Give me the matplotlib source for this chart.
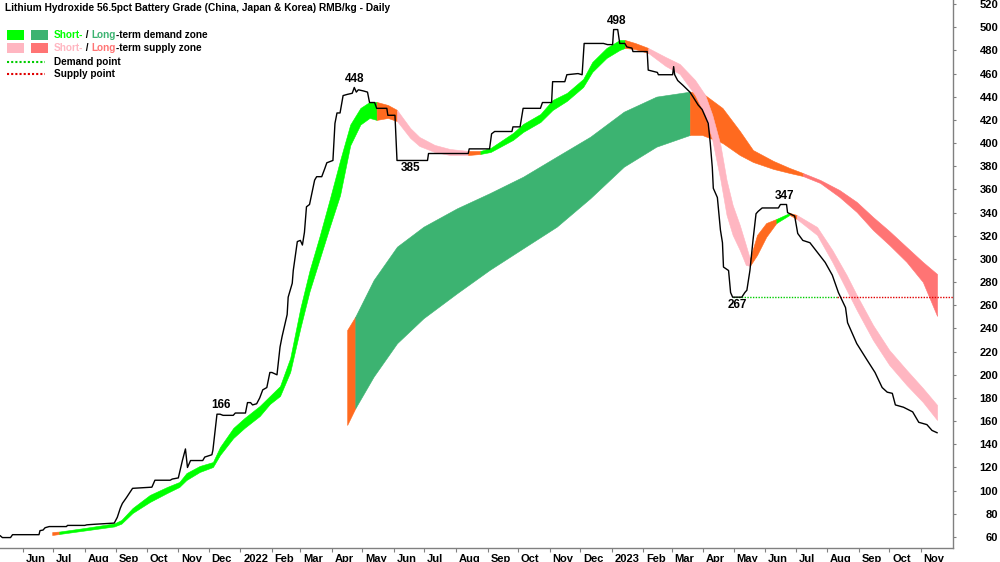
import matplotlib
matplotlib.use('Agg')
import matplotlib.pyplot as plt
import matplotlib.transforms as mtransforms
import numpy as np
import pandas as pd

plt.rcParams['font.family'] = ['Liberation Sans', 'DejaVu Sans']
plt.rcParams['font.weight'] = 'bold'
plt.rcParams['font.size'] = 8

# ---- price (RMB/kg) ----
price_dates = ['2021-05-10', '2021-05-12', '2021-05-20', '2021-05-22', '2021-06-17', '2021-06-18',
               '2021-06-21', '2021-06-23', '2021-06-27', '2021-07-14', '2021-07-15', '2021-08-01',
               '2021-08-03', '2021-08-11', '2021-08-30', '2021-09-02', '2021-09-05', '2021-09-07',
               '2021-09-11', '2021-09-17', '2021-10-06', '2021-10-09', '2021-10-24', '2021-10-26',
               '2021-11-01', '2021-11-05', '2021-11-08', '2021-11-10', '2021-11-13', '2021-11-25',
               '2021-11-27', '2021-12-04', '2021-12-05', '2021-12-09', '2021-12-12', '2021-12-15',
               '2021-12-25', '2021-12-27', '2022-01-06', '2022-01-08', '2022-01-11', '2022-01-13',
               '2022-01-17', '2022-01-20', '2022-01-23', '2022-01-27', '2022-01-30', '2022-02-01',
               '2022-02-06', '2022-02-09', '2022-02-11', '2022-02-16', '2022-02-17', '2022-02-21',
               '2022-02-22', '2022-02-26', '2022-03-01', '2022-03-03', '2022-03-05', '2022-03-07',
               '2022-03-10', '2022-03-15', '2022-03-17', '2022-03-22', '2022-03-25', '2022-03-27',
               '2022-04-02', '2022-04-04', '2022-04-06', '2022-04-09', '2022-04-12', '2022-04-16',
               '2022-04-21', '2022-04-23', '2022-04-25', '2022-04-27', '2022-05-02', '2022-05-06',
               '2022-05-08', '2022-05-13', '2022-05-15', '2022-05-25', '2022-05-26', '2022-06-02',
               '2022-06-04', '2022-07-04', '2022-07-05', '2022-08-13', '2022-08-14', '2022-09-03',
               '2022-09-05', '2022-09-08', '2022-09-25', '2022-09-26', '2022-10-03', '2022-10-06',
               '2022-10-23', '2022-10-25', '2022-11-03', '2022-11-04', '2022-11-16', '2022-11-18',
               '2022-11-29', '2022-12-03', '2022-12-05', '2022-12-24', '2022-12-28', '2023-01-02',
               '2023-01-03', '2023-01-07', '2023-01-09', '2023-01-14', '2023-01-16', '2023-01-21',
               '2023-01-22', '2023-02-05', '2023-02-06', '2023-02-15', '2023-02-16', '2023-03-02',
               '2023-03-03', '2023-03-04', '2023-03-07', '2023-03-12', '2023-03-19', '2023-03-22',
               '2023-03-27', '2023-03-31', '2023-04-03', '2023-04-06', '2023-04-08', '2023-04-10',
               '2023-04-11', '2023-04-15', '2023-04-18', '2023-04-20', '2023-04-21', '2023-04-26',
               '2023-04-28', '2023-04-30', '2023-05-09', '2023-05-12', '2023-05-14', '2023-05-17',
               '2023-05-20', '2023-05-23', '2023-05-25', '2023-05-29', '2023-06-14', '2023-06-16',
               '2023-06-22', '2023-06-23', '2023-06-30', '2023-07-03', '2023-07-08', '2023-07-15',
               '2023-07-23', '2023-07-30', '2023-08-06', '2023-08-12', '2023-08-19', '2023-08-21',
               '2023-08-30', '2023-09-09', '2023-09-17', '2023-09-24', '2023-09-29', '2023-10-04',
               '2023-10-07', '2023-10-15', '2023-10-24', '2023-10-30', '2023-11-07', '2023-11-12',
               '2023-11-17']
price_vals = [61, 59.5, 59.5, 62, 62, 65.5,
              66, 68, 69, 69, 70, 70,
              70.5, 71, 72, 77, 85, 89,
              94, 102, 103, 109, 109, 110,
              111, 126, 136, 120, 126, 126,
              129, 131, 135, 166, 166, 165,
              165, 167, 167, 176, 176, 174,
              175, 180, 187, 189, 202, 202,
              200, 224, 233, 252, 267, 279,
              290, 315, 316, 312, 323, 345,
              347, 368, 371, 371, 378, 383,
              385, 417, 426, 426, 441, 442,
              443, 448, 444, 446, 445, 444,
              435, 435, 430, 430, 424, 424,
              385, 385, 391, 391, 395, 395,
              408, 410, 410, 414, 414, 430,
              430, 435, 435, 453, 453, 459,
              460, 459, 486, 486, 485, 485,
              498, 498, 486, 486, 483, 482,
              479, 479, 463, 461, 459, 459,
              466, 459, 454, 450, 444, 440,
              433, 429, 423, 417, 400, 379,
              361, 353, 325, 314, 293, 290,
              271, 267, 267, 271, 273, 290,
              316, 339, 341, 344, 344, 347,
              347, 340, 337, 322, 316, 314,
              305, 297, 286, 271, 258, 245,
              227, 213, 202, 189, 185, 184,
              174, 172, 168, 159, 157, 152,
              150]

# ---- short-term zone ----
st_dates = ['2021-06-30', '2021-07-07', '2021-08-01', '2021-08-30', '2021-09-06', '2021-09-17',
            '2021-10-04', '2021-10-21', '2021-11-02', '2021-11-09', '2021-11-22', '2021-12-05',
            '2021-12-12', '2021-12-25', '2022-01-05', '2022-01-20', '2022-01-30', '2022-02-09',
            '2022-02-19', '2022-03-01', '2022-03-10', '2022-03-20', '2022-03-30', '2022-04-09',
            '2022-04-19', '2022-04-29', '2022-05-08', '2022-05-15', '2022-05-26', '2022-06-04',
            '2022-06-17', '2022-06-26', '2022-07-11', '2022-07-26', '2022-08-13', '2022-08-25',
            '2022-09-04', '2022-09-26', '2022-10-06', '2022-10-23', '2022-11-04', '2022-11-18',
            '2022-12-04', '2022-12-13', '2022-12-27', '2023-01-09', '2023-01-14', '2023-01-24',
            '2023-02-06', '2023-02-23', '2023-03-09', '2023-03-24', '2023-04-03', '2023-04-10',
            '2023-04-18', '2023-04-24', '2023-04-30', '2023-05-07', '2023-05-13', '2023-05-17',
            '2023-05-24', '2023-06-02', '2023-06-12', '2023-06-25', '2023-07-02', '2023-07-22',
            '2023-08-06', '2023-08-20', '2023-08-30', '2023-09-15', '2023-10-01', '2023-10-18',
            '2023-11-03', '2023-11-17']
st_low = [61.7, 62.6, 65.6, 69.1, 71.5, 80.7,
          90.2, 98.0, 103.2, 109.2, 116.1, 120.4,
          130.8, 145.4, 154.1, 164.4, 174.8, 181.7,
          202.4, 240.4, 272.0, 300.0, 328.0, 355.0,
          398.0, 416.0, 421.7, 420.0, 421.7, 419.0,
          404.4, 397.5, 392.3, 389.7, 389.7, 390.6,
          392.3, 402.7, 409.6, 418.2, 428.6, 436.4,
          448.4, 461.4, 473.5, 480.4, 482.1, 481.2,
          477.8, 466.6, 459.7, 441.5, 424.3, 402.7,
          368.2, 338.0, 320.7, 307.7, 294.8, 294.0,
          303.4, 319.0, 331.0, 338.0, 334.5, 320.7,
          297.4, 273.2, 255.9, 230.0, 208.5, 191.2,
          176.5, 161.0]
st_high = [64.3, 64.7, 67.8, 71.7, 74.7, 85.0,
           96.3, 103.2, 107.5, 115.2, 121.3, 124.7,
           137.7, 154.1, 162.7, 173.1, 181.7, 190.3,
           214.5, 257.7, 290.0, 320.0, 352.0, 385.0,
           416.0, 430.3, 435.5, 435.5, 432.9, 428.6,
           413.0, 405.3, 398.4, 394.9, 393.2, 393.2,
           395.8, 408.7, 416.5, 425.1, 437.2, 443.3,
           455.3, 470.0, 482.1, 489.0, 489.0, 486.4,
           482.1, 474.3, 468.3, 454.5, 441.5, 424.3,
           398.4, 368.2, 346.6, 329.3, 312.0, 300.0,
           320.7, 331.0, 334.5, 339.7, 338.0, 327.6,
           307.7, 286.2, 268.9, 243.0, 221.4, 204.2,
           188.6, 174.0]
st_breaks = ['2021-06-30', '2021-07-07', '2022-05-15', '2022-06-04', '2022-08-13', '2022-08-25',
             '2023-01-14', '2023-02-06', '2023-05-17', '2023-06-12', '2023-06-25', '2023-07-02',
             '2023-11-17']
st_kinds = ['mixed', 'demand', 'mixed', 'supply', 'mixed', 'demand',
            'mixed', 'supply', 'mixed', 'demand', 'mixed', 'supply']

# ---- long-term zone ----
lt_dates = ['2022-04-16', '2022-04-24', '2022-05-12', '2022-06-04', '2022-06-30', '2022-08-02',
            '2022-09-03', '2022-10-06', '2022-11-08', '2022-12-11', '2023-01-13', '2023-02-14',
            '2023-03-19', '2023-03-31', '2023-04-20', '2023-05-07', '2023-05-20', '2023-06-09',
            '2023-06-25', '2023-07-08', '2023-07-25', '2023-08-13', '2023-08-30', '2023-09-15',
            '2023-10-01', '2023-10-18', '2023-11-03', '2023-11-17']
lt_low = [156.7, 171.1, 198.4, 227.2, 248.8, 270.4,
          290.5, 309.2, 327.8, 352.4, 379.6, 396.9,
          407.0, 407.0, 400.1, 389.7, 383.7, 377.7,
          374.2, 371.6, 365.6, 353.5, 340.5, 325.0,
          312.1, 297.4, 280.1, 250.8]
lt_high = [238.7, 250.2, 281.8, 310.6, 327.8, 343.7,
           356.7, 371.0, 388.3, 405.5, 427.1, 440.1,
           444.4, 443.3, 430.3, 410.5, 394.0, 384.6,
           378.5, 374.2, 368.2, 359.5, 349.2, 336.2,
           324.1, 310.3, 297.4, 287.0]
lt_breaks = ['2022-04-16', '2022-04-24', '2023-03-19', '2023-07-08', '2023-11-17']
lt_kinds = ['mixed', 'demand', 'mixed', 'supply']

# ---- demand / supply point ----
point_level = 267
demand_start = '2023-04-30'
supply_start = '2023-08-11'
axis_start = '2021-05-09 16:00'
axis_end = '2023-12-02 16:00'

# ---- annotated turning points ----
peak_dates = ['2021-12-13', '2022-04-23', '2023-01-06', '2023-06-20']
peak_vals = [166, 448, 498, 347]
trough_dates = ['2022-06-17', '2023-05-05']
trough_vals = [385, 267]

price_dates = pd.to_datetime(price_dates)
st_dates = pd.to_datetime(st_dates)
lt_dates = pd.to_datetime(lt_dates)
st_low, st_high = np.array(st_low), np.array(st_high)
lt_low, lt_high = np.array(lt_low), np.array(lt_high)

short_cols = {'demand': '#00FF00', 'supply': '#FFB6C1', 'mixed': '#FF6A1F'}
long_cols = {'demand': '#3CB371', 'supply': '#FF7474', 'mixed': '#FF6A1F'}

fig = plt.figure(figsize=(10, 5.62), dpi=100)
ax = fig.add_axes([0, 14 / 562, 953 / 1000, 548 / 562])


def fill_zone(dates, low, high, breaks, kinds, cols, z):
    for start, end, kind in zip(breaks[:-1], breaks[1:], kinds):
        m = (dates >= pd.Timestamp(start)) & (dates <= pd.Timestamp(end))
        ax.fill_between(dates[m], low[m], high[m], color=cols[kind], ec=cols[kind], lw=0.4, zorder=z)


fill_zone(lt_dates, lt_low, lt_high, lt_breaks, lt_kinds, long_cols, 1)
fill_zone(st_dates, st_low, st_high, st_breaks, st_kinds, short_cols, 2)

# demand point (green) then supply point (red)
ax.plot([pd.Timestamp(demand_start), pd.Timestamp(supply_start)], [point_level] * 2,
        color='#00CC00', lw=1, ls=(0, (1, 1)), zorder=3)
ax.plot([pd.Timestamp(supply_start), pd.Timestamp(axis_end)], [point_level] * 2,
        color='#E00000', lw=1, ls=(0, (1, 1)), zorder=3)

ax.plot(price_dates, price_vals, color='black', lw=1, zorder=4)

for d, v in zip(peak_dates, peak_vals):
    ax.annotate(str(v), (pd.Timestamp(d), v), xytext=(0, 2), textcoords='offset points',
                ha='center', va='bottom', fontsize=8.5, zorder=5)
for d, v in zip(trough_dates, trough_vals):
    ax.annotate(str(v), (pd.Timestamp(d), v), xytext=(0, -1), textcoords='offset points',
                ha='center', va='top', fontsize=8.5, zorder=5)

# axes
ax.set_xlim(pd.Timestamp(axis_start), pd.Timestamp(axis_end))
ax.set_ylim(50.5, 523.5)
ax.set_yticks(np.arange(60, 521, 20))
ax.yaxis.tick_right()
ax.tick_params(axis='y', direction='out', length=2, width=0.8, color='#808080', pad=30.5)
for lab in ax.get_yticklabels():
    lab.set_horizontalalignment('right')

month_ticks = pd.date_range('2021-06-01', '2023-11-01', freq='MS')
ax.set_xticks(month_ticks)
ax.set_xticklabels([str(t.year) if t.month == 1 else t.strftime('%b') for t in month_ticks])
ax.tick_params(axis='x', direction='out', length=3, width=0.8, color='#808080', pad=1)
shift = mtransforms.ScaledTranslation(2 / 72, 0, fig.dpi_scale_trans)
for lab in ax.get_xticklabels():
    lab.set_horizontalalignment('left')
    lab.set_transform(lab.get_transform() + shift)

for s in ['left', 'top']:
    ax.spines[s].set_visible(False)
for s in ['right', 'bottom']:
    ax.spines[s].set_color('#808080')
    ax.spines[s].set_linewidth(1)

# title
fig.text(5 / 1000, 1 - 8 / 562, 'Lithium Hydroxide 56.5pct Battery Grade (China, Japan & Korea) RMB/kg - Daily',
         ha='left', va='center', fontsize=7.3)


# legend
def px(x, y):
    return x / 1000, 1 - y / 562


for (x0, y0), c in zip([(7, 30), (31, 30), (7, 43), (31, 43)],
                       [short_cols['demand'], long_cols['demand'], short_cols['supply'], long_cols['supply']]):
    fx, fy = px(x0, y0 + 10)
    fig.add_artist(plt.Rectangle((fx, fy), 17 / 1000, 10 / 562, transform=fig.transFigure,
                                 color=c, lw=0))

for y0, parts in [(35, [('Short-', short_cols['demand']), (' / ', 'black'), ('Long', long_cols['demand']),
                        ('-term demand zone', 'black')]),
                  (48, [('Short-', short_cols['supply']), (' / ', 'black'), ('Long', long_cols['supply']),
                        ('-term supply zone', 'black')])]:
    prev = fig.text(*px(54, y0), parts[0][0], color=parts[0][1], ha='left', va='center', fontsize=7.2)
    for txt, c in parts[1:]:
        prev = ax.annotate(txt, xy=(1, 0), xycoords=prev, ha='left', va='bottom', color=c,
                           fontsize=7.2, annotation_clip=False)

for y0, c, txt in [(62, '#00CC00', 'Demand point'), (74, '#E00000', 'Supply point')]:
    fx0, fy = px(7, y0)
    fx1, _ = px(45, y0)
    fig.add_artist(plt.Line2D([fx0, fx1], [fy, fy], transform=fig.transFigure, color=c, lw=1.5,
                              ls=(0, (1, 1))))
    fig.text(*px(54, y0), txt, ha='left', va='center', fontsize=7.2)

fig.savefig('out.png', dpi=100)
